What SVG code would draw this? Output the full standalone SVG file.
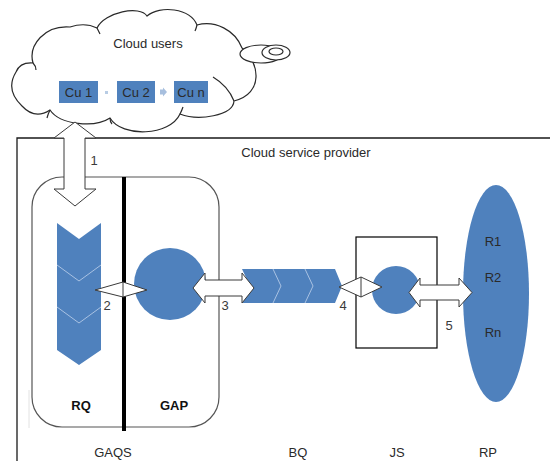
<svg xmlns="http://www.w3.org/2000/svg" width="550" height="461" viewBox="0 0 550 461">
  <style>
    text { font-family: "Liberation Sans", Arial, sans-serif; font-size: 13px; fill: #2a2a2a; }
    .lbl { text-anchor: middle; }
    .num { font-size: 13px; fill: #3a3a3a; }
    .bold { font-weight: bold; fill: #111; }
    .blue { fill: #4F81BD; }
    .arrow { fill: #ffffff; stroke: #3a3a3a; stroke-width: 1; stroke-linejoin: miter; }
    .inner { fill: none; stroke: #a9c2e3; stroke-width: 1; }
    .outline { fill: none; stroke: #2a2a2a; stroke-width: 1.2; }
  </style>

  <rect width="550" height="461" fill="#ffffff"/>

  <!-- Cloud service provider frame -->
  <g id="provider">
    <path d="M17,461 L17,138 L550,138" fill="none" stroke="#1a1a1a" stroke-width="1.3"/>
    <line x1="29" y1="390" x2="29" y2="428" stroke="#e2e2e2" stroke-width="1"/>
    <text class="lbl" x="306" y="157">Cloud service provider</text>
  </g>

  <!-- Cloud users -->
  <g id="cloud">
    <path class="outline" d="M50,110 Q35,120 22,106 Q5,90 16,72 Q20,62 33,63 C28,45 45,25 70,27 Q85,22 97,28 C105,12 140,5 147,16 C160,5 190,8 197,25 C215,20 235,30 242,48 C260,62 264,94 234,101 C233,116 198,121 180,114 C170,136 122,138 110,118 C95,128 60,125 50,110 Z" style="fill:#ffffff"/>
    <path class="outline" d="M33,63 Q36,66 36,70 M97,28 Q99,32 100,34 M197,25 Q196,29 195,31 M213,77 Q228,86 234,101 M180,114 Q182,110 183,107 M110,118 Q110,122 112,124 M50,110 Q48,114 47,118"/>
    <ellipse cx="261" cy="54" rx="21" ry="9" fill="#ffffff" stroke="#2a2a2a" stroke-width="1.2"/>
    <ellipse cx="276" cy="52.5" rx="14" ry="7.5" fill="#ffffff" stroke="#2a2a2a" stroke-width="1.2"/>
    <ellipse cx="276" cy="51.5" rx="7" ry="3.5" fill="#ffffff" stroke="#2a2a2a" stroke-width="1.2"/>
    <text class="lbl" x="148" y="48">Cloud users</text>
  </g>

  <g id="cu1">
    <rect class="blue" x="59" y="81" width="39" height="22"/>
    <text class="lbl" x="78.5" y="97">Cu 1</text>
  </g>
  <g id="cu2">
    <rect class="blue" x="117" y="81" width="38" height="22"/>
    <text class="lbl" x="136" y="97">Cu 2</text>
  </g>
  <g id="cun">
    <rect class="blue" x="174" y="81" width="34" height="22"/>
    <text class="lbl" x="191" y="97">Cu n</text>
  </g>

  <!-- GAQS -->
  <g id="gaqs">
    <rect x="32" y="177" width="187" height="250" rx="30" ry="30" fill="none" stroke="#555555" stroke-width="1.2"/>
    <line x1="124" y1="177" x2="124" y2="431" stroke="#000000" stroke-width="4"/>
    <text class="lbl bold" x="81" y="410">RQ</text>
    <text class="lbl bold" x="174" y="410">GAP</text>
    <text class="lbl" x="113" y="457">GAQS</text>
  </g>

  <g id="rq">
    <path class="blue" d="M57,223 L79,239 L101,223 L101,350 L79,365 L57,350 Z"/>
    <path class="inner" d="M57,265 L79,281 L101,265 M57,307 L79,323 L101,307"/>
  </g>

  <g id="gap">
    <circle class="blue" cx="170" cy="284" r="36"/>
  </g>

  <g id="bq">
    <path class="blue" d="M242,269 L335,269 L342,286 L335,303 L242,303 L250,286 Z"/>
    <path class="inner" d="M273,269 L281,286 L273,303 M305,269 L313,286 L305,303"/>
    <text class="lbl" x="298" y="457">BQ</text>
  </g>

  <g id="js">
    <rect x="356" y="237" width="81" height="111" fill="none" stroke="#000000" stroke-width="1.2"/>
    <circle class="blue" cx="396" cy="290" r="24"/>
    <text class="lbl" x="397" y="457">JS</text>
  </g>

  <g id="rp">
    <ellipse class="blue" cx="496" cy="293.5" rx="33" ry="108.5"/>
    <text class="lbl" x="493" y="246">R1</text>
    <text class="lbl" x="493" y="282">R2</text>
    <text class="lbl" x="493" y="337">Rn</text>
    <text class="lbl" x="488" y="457">RP</text>
  </g>

  <!-- Connectors -->
  <g id="connectors">
    <rect x="105" y="91" width="3" height="3" fill="#b8cce4"/>
    <path d="M160,89.5 L163,89.5 L163,87.5 L167,92 L163,96.5 L163,94.5 L160,94.5 Z" fill="#a7bfde"/>
    <path class="arrow" d="M75,122 L96,138 L85,138 L85,189 L96,189 L75,206 L54,189 L64,189 L64,138 L54,138 Z"/>
    <path class="arrow" d="M95,290 L123,282 L147,290 L123,297 Z M123,282 L123,297"/>
    <path class="arrow" d="M193,288 L205,273 L205,280 L242,280 L242,273 L254,288 L242,303 L242,296 L205,296 L205,303 Z"/>
    <path class="arrow" d="M339,287 L361,277 L382,287 L361,297 Z M361,277 L361,297"/>
    <path class="arrow" d="M409,292.5 L420,278 L420,285 L459,285 L459,278 L472,292.5 L459,307 L459,300 L420,300 L420,307 Z"/>
    <text class="num" x="94" y="165" text-anchor="middle">1</text>
    <text class="num" x="107" y="310" text-anchor="middle">2</text>
    <text class="num" x="225" y="310" text-anchor="middle">3</text>
    <text class="num" x="343" y="310" text-anchor="middle">4</text>
    <text class="num" x="449" y="330" text-anchor="middle">5</text>
  </g>
</svg>
